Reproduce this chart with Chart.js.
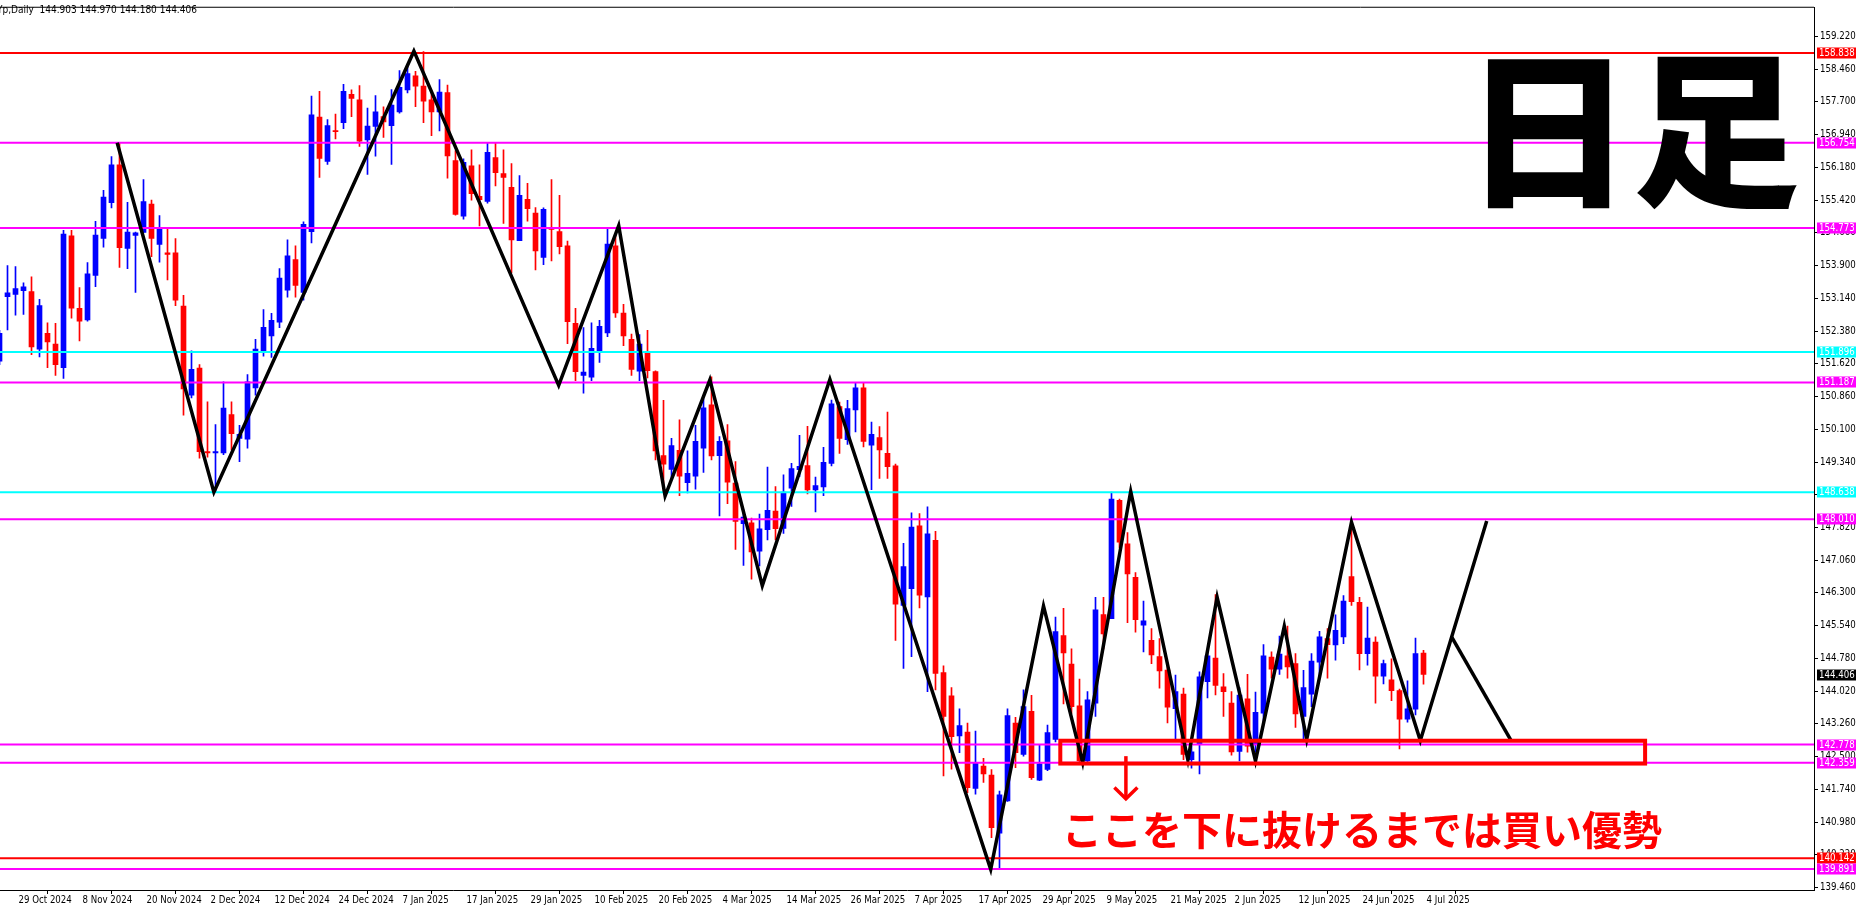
<!DOCTYPE html>
<html><head><meta charset="utf-8">
<script src="https://cdn.jsdelivr.net/npm/chart.js@4.4.1/dist/chart.umd.min.js"></script>
<style>html,body{margin:0;padding:0;background:#fff;overflow:hidden}canvas{display:block}</style>
</head><body>
<canvas id="c" width="1859" height="909"></canvas>
<script>
// ---- data (bar index k starts at -1 = 25 Oct 2024, last k = 177 = 4 Jul 2025) ----
const firstBar = -1;
const opens = [151.68,153.18,153.23,153.32,153.30,151.96,152.33,152.08,151.53,154.59,152.91,152.64,153.67,154.53,155.36,156.24,154.30,154.60,154.67,155.33,154.39,154.20,154.20,152.96,150.89,151.52,149.58,149.55,149.55,150.44,149.89,149.87,151.06,151.92,152.27,152.59,153.33,154.04,153.28,154.69,157.35,156.32,157.03,157.22,157.88,157.75,156.82,157.13,157.36,157.15,157.47,157.98,158.31,158.07,157.75,157.47,157.92,156.34,155.05,156.22,155.51,155.39,156.41,156.04,155.72,154.48,155.44,155.12,154.09,154.78,154.69,154.36,152.56,151.35,151.31,151.88,152.34,154.36,152.80,152.19,151.45,151.88,151.44,149.49,149.17,149.61,148.86,149.01,149.66,150.67,149.49,149.83,148.85,147.91,147.93,147.27,147.77,148.20,147.80,148.73,149.16,149.26,148.69,148.76,149.31,150.63,149.86,150.55,151.06,149.73,149.91,149.54,149.25,146.01,146.40,147.86,146.21,147.52,144.45,143.91,142.98,143.07,141.76,142.28,142.07,140.72,141.47,143.28,142.55,143.55,141.95,142.20,142.90,145.31,144.65,143.68,142.40,143.74,145.80,145.70,148.45,147.44,146.66,145.55,145.20,144.82,144.51,143.61,143.95,142.43,142.78,144.24,144.79,144.12,143.74,142.62,143.84,142.78,143.51,144.81,144.53,144.84,144.66,143.43,143.95,144.69,145.24,145.09,145.28,146.68,146.08,144.89,145.16,144.37,144.28,144.03,143.37,143.60,144.903];
const highs = [152.40,153.90,153.88,153.50,153.64,153.12,152.57,152.56,154.72,154.72,153.39,153.97,154.93,155.65,156.43,156.75,155.37,154.68,155.90,155.42,155.06,154.75,154.53,153.21,151.92,151.60,150.74,150.21,151.20,150.74,150.19,151.37,152.19,152.88,152.79,153.83,154.50,154.36,154.92,157.84,157.95,157.29,157.42,158.11,157.98,158.08,157.56,157.85,157.59,157.99,158.43,158.57,158.41,158.87,157.95,158.22,158.09,156.57,156.38,156.59,156.24,156.75,156.76,156.59,156.27,155.99,155.81,155.25,155.24,155.90,155.53,154.47,152.91,152.46,152.57,152.63,154.78,154.61,153.00,152.31,152.30,152.40,151.46,150.77,149.89,150.32,149.60,150.19,150.81,151.32,149.93,150.21,149.35,148.23,148.04,148.13,149.22,148.77,149.04,149.31,149.96,150.17,148.99,149.68,150.78,150.73,150.77,151.17,151.17,150.27,150.16,150.50,149.29,147.45,148.16,148.14,148.30,147.73,144.61,144.10,143.61,143.28,143.09,142.46,142.20,141.70,143.61,143.41,144.05,143.92,142.78,143.23,145.74,145.94,145.00,144.30,144.01,146.20,146.20,148.64,148.48,147.70,146.77,146.11,145.47,145.24,144.66,144.39,144.09,142.74,144.47,144.97,146.26,144.43,144.01,144.10,144.41,144.00,145.10,144.93,145.30,145.53,144.89,144.50,144.89,145.41,145.47,145.79,146.24,147.93,146.20,145.97,145.28,144.74,144.77,144.07,144.26,145.25,144.970];
const lows = [151.60,152.41,152.75,152.77,151.83,151.78,151.53,151.35,151.28,152.68,152.15,152.61,153.41,154.33,155.24,153.86,153.83,153.28,154.67,154.11,153.98,153.57,152.97,150.43,150.83,149.43,149.45,148.65,149.51,149.62,149.35,149.66,150.89,151.80,151.77,152.46,153.17,153.17,153.10,154.43,155.95,156.25,156.84,157.08,157.36,156.67,156.02,156.44,156.88,156.25,157.44,157.91,157.59,157.22,156.92,157.03,155.93,155.07,154.98,155.42,154.82,155.35,155.75,154.88,153.73,154.48,154.93,153.80,153.92,154.01,154.17,152.09,151.23,150.94,151.23,151.65,152.25,152.70,152.04,151.35,151.23,151.29,149.39,148.64,148.93,148.56,148.62,148.71,149.10,149.39,148.09,148.37,147.31,146.94,146.62,146.93,147.53,147.53,147.68,148.31,149.00,148.60,148.18,148.56,149.25,149.54,149.75,150.04,149.69,148.70,148.96,148.96,145.20,144.55,144.82,145.95,144.01,144.05,142.05,142.21,142.59,141.66,141.63,141.90,140.62,139.89,141.46,142.24,142.51,141.97,141.94,142.17,142.84,143.72,143.50,142.36,142.38,143.43,145.00,145.70,147.35,145.61,145.39,144.93,144.66,144.09,143.28,142.90,142.43,142.23,142.10,143.86,143.93,143.43,142.53,142.40,142.60,142.60,143.30,144.32,144.41,144.32,143.18,142.87,143.66,144.32,144.32,144.74,145.12,146.01,144.51,144.62,143.74,144.19,143.80,142.68,143.30,143.47,144.180];
const closes = [152.33,153.27,153.37,153.41,152.01,152.97,152.13,151.60,154.63,152.91,152.61,153.71,154.61,155.49,156.24,154.32,154.68,154.66,155.39,154.53,154.78,154.16,153.10,151.04,151.49,149.58,149.55,149.58,150.59,150.00,149.98,151.20,151.96,152.47,152.63,153.61,154.13,153.44,154.86,157.40,156.39,157.15,157.01,157.95,157.78,156.79,157.14,157.47,157.24,157.63,158.04,158.36,158.07,157.72,157.47,157.93,156.45,155.09,156.30,155.57,155.43,156.53,156.06,155.95,154.50,155.53,155.22,154.24,155.21,154.74,154.34,152.60,151.44,151.43,151.98,152.49,154.40,152.80,152.27,151.49,152.08,151.46,149.60,149.29,149.72,149.01,149.08,149.82,150.60,149.48,149.82,148.87,147.96,148.06,147.25,147.79,148.22,147.79,148.64,149.19,149.24,148.69,148.79,149.33,150.69,149.89,150.58,151.06,149.82,149.98,149.62,149.23,146.04,146.91,147.83,146.25,147.67,144.43,143.43,142.96,143.22,141.78,142.36,142.10,140.85,141.61,143.45,142.59,143.66,142.01,142.33,143.06,145.40,144.91,143.66,142.40,143.82,145.91,145.35,148.48,147.48,146.74,145.68,145.65,144.86,144.49,143.65,144.01,142.55,142.61,144.35,144.84,144.15,144.01,142.61,143.93,142.74,143.53,144.84,144.53,144.88,144.58,143.49,144.10,144.72,145.28,145.10,145.43,146.11,146.10,144.89,145.25,144.37,144.66,144.03,143.37,143.61,144.89,144.406];

const xTickIdx = [1,9,17,25,33,41,49,57,65,73,81,89,97,105,113,121,129,137,145,153,161,169,177];
const xTickLabels = ["29 Oct 2024","8 Nov 2024","20 Nov 2024","2 Dec 2024","12 Dec 2024","24 Dec 2024","7 Jan 2025","17 Jan 2025","29 Jan 2025","10 Feb 2025","20 Feb 2025","4 Mar 2025","14 Mar 2025","26 Mar 2025","7 Apr 2025","17 Apr 2025","29 Apr 2025","9 May 2025","21 May 2025","2 Jun 2025","12 Jun 2025","24 Jun 2025","4 Jul 2025"];
const yTicks = [159.22,158.46,157.70,156.94,156.18,155.42,154.66,153.90,153.14,152.38,151.62,150.86,150.10,149.34,148.58,147.82,147.06,146.30,145.54,144.78,144.02,143.26,142.50,141.74,140.98,140.22,139.46];

const levels = [158.838,156.754,154.773,151.896,151.187,148.638,148.010,142.778,142.359,140.142,139.891];
const levelColors = ['#ff0000','#ff00ff','#ff00ff','#00ffff','#ff00ff','#00ffff','#ff00ff','#ff00ff','#ff00ff','#ff0000','#ff00ff'];
const lastPrice = 144.406;

const zigzagX = [13.71,25.8,50.8,68.9,76.4,82.2,87.8,94.35,102.8,122.9,129.5,134.4,140.4,147.55,151.2,156.0,159.6,162.4,168.0,176.6,184.9];
const zigzagY = [156.754,148.64,158.88,151.12,154.83,148.55,151.25,146.47,151.26,139.88,146.0,142.36,148.66,142.42,146.2,142.40,145.53,142.90,147.94,142.87,147.97];
const branchX = [180.55,187.9];
const branchY = [145.27,142.89];

const rectK = [131.6,204.7];
const rectP = [142.868,142.338];
const arrowK = 139.8;
const arrowP = [142.51,141.52];
const arrowWing = [1.44,0.26];
const noteText = 'ここを下に抜けるまでは買い優勢';
const notePos = [169.3,140.81];
const titleText = '日足';
const titlePos = [203.1,157.04];
const headerText = 'Yp,Daily  144.903 144.970 144.180 144.406';

// ---- build ----
const BLUE = '#0000ff', RED = '#ff0000';
const bodies = [], wicks = [], cols = [];
for (let i = 0; i < opens.length; i++) {
  const k = firstBar + i;
  bodies.push({x: k, y: [opens[i], closes[i]]});
  wicks.push({x: k, y: [lows[i], highs[i]]});
  cols.push(closes[i] >= opens[i] ? BLUE : RED);
}
const X_MIN = -0.9375, X_MAX = 225.8125;
const FONT = "'Liberation Sans Narrow','DejaVu Sans Condensed','Liberation Sans',sans-serif";
const FSIZE = 9.6;

const levelSets = levels.map((v, i) => ({
  type: 'line', data: [{x: X_MIN, y: v}, {x: X_MAX, y: v}],
  borderColor: levelColors[i], borderWidth: 2, pointRadius: 0, order: 2
}));

const annot = {
  id: 'annot',
  beforeDraw(c) {
    const g = c.ctx; g.save(); g.fillStyle = '#fff'; g.fillRect(0, 0, c.width, c.height); g.restore();
  },
  afterDraw(c) {
    const g = c.ctx, xs = c.scales.x, ys = c.scales.y, a = c.chartArea;
    g.save();
    // top frame
    g.strokeStyle = '#000'; g.lineWidth = 1;
    g.beginPath(); g.moveTo(0, a.top - 0.5); g.lineTo(a.right, a.top - 0.5); g.stroke();
    // header
    g.fillStyle = '#000'; g.font = '10px ' + FONT; g.textBaseline = 'middle'; g.textAlign = 'left';
    g.fillText(headerText, -3, 10);
    // level labels
    g.font = FSIZE + 'px ' + FONT;
    const drawBox = (v, bg) => {
      const y = Math.round(ys.getPixelForValue(v));
      g.fillStyle = bg; g.fillRect(a.right + 3, y - 5.5, 39, 11);
      g.fillStyle = '#fff'; g.textBaseline = 'middle';
      g.fillText(v.toFixed(3), a.right + 5, y + 0.5);
    };
    levels.forEach((v, i) => drawBox(v, levelColors[i]));
    drawBox(lastPrice, '#000');
    // big title
    g.fillStyle = '#000'; g.textAlign = 'center'; g.textBaseline = 'middle';
    g.font = "900 168px 'Noto Sans CJK JP'";
    g.fillText(titleText, xs.getPixelForValue(titlePos[0]), ys.getPixelForValue(titlePos[1]));
    // red rectangle
    g.strokeStyle = RED; g.lineWidth = 4; g.lineJoin = 'miter';
    const rx0 = xs.getPixelForValue(rectK[0]), rx1 = xs.getPixelForValue(rectK[1]);
    const ry0 = ys.getPixelForValue(rectP[0]), ry1 = ys.getPixelForValue(rectP[1]);
    g.strokeRect(rx0, ry0, rx1 - rx0, ry1 - ry0);
    // arrow
    const ax = xs.getPixelForValue(arrowK);
    const ay0 = ys.getPixelForValue(arrowP[0]), ay1 = ys.getPixelForValue(arrowP[1]);
    const wx = xs.getPixelForValue(arrowK + arrowWing[0]) - ax;
    const wy = ys.getPixelForValue(arrowP[1] + arrowWing[1]) - ay1;
    g.lineWidth = 3.5; g.lineCap = 'butt';
    g.beginPath(); g.moveTo(ax, ay0); g.lineTo(ax, ay1); g.stroke();
    g.beginPath(); g.moveTo(ax - wx, ay1 + wy); g.lineTo(ax, ay1); g.lineTo(ax + wx, ay1 + wy); g.stroke();
    // note text
    g.fillStyle = RED; g.font = "bold 40px 'Noto Sans CJK JP'";
    g.fillText(noteText, xs.getPixelForValue(notePos[0]), ys.getPixelForValue(notePos[1]));
    g.restore();
  }
};

new Chart(document.getElementById('c'), {
  type: 'bar',
  data: {
    datasets: [
      {type: 'bar', data: wicks, backgroundColor: cols, barThickness: 1, grouped: false, borderWidth: 0, order: 4},
      {type: 'bar', data: bodies, backgroundColor: cols, barThickness: 5, minBarLength: 1, grouped: false, borderWidth: 0, order: 3},
      ...levelSets,
      {type: 'line', data: zigzagX.map((x, i) => ({x, y: zigzagY[i]})), borderColor: '#000', borderWidth: 3.5,
       borderJoinStyle: 'miter', pointRadius: 0, tension: 0, order: 1},
      {type: 'line', data: branchX.map((x, i) => ({x, y: branchY[i]})), borderColor: '#000', borderWidth: 3.5,
       pointRadius: 0, order: 1}
    ]
  },
  options: {
    responsive: false, animation: false, devicePixelRatio: 1, events: [],
    layout: {padding: {top: 1, left: 0, right: 0, bottom: 0}},
    plugins: {legend: {display: false}, tooltip: {enabled: false}},
    scales: {
      x: {
        type: 'linear', min: X_MIN, max: X_MAX, offset: false,
        afterBuildTicks: s => { s.ticks = xTickIdx.map(v => ({value: v})); },
        afterFit: s => { s.height = 19; },
        grid: {drawOnChartArea: false, tickLength: 4, color: '#000'},
        border: {display: true, color: '#000', width: 1},
        ticks: {autoSkip: false, maxRotation: 0, minRotation: 0, align: 'start', labelOffset: 3, padding: 1,
          color: '#000', font: {family: FONT, size: FSIZE},
          callback: v => { const j = xTickIdx.indexOf(v); return j >= 0 ? xTickLabels[j] : ''; }}
      },
      y: {
        type: 'linear', position: 'right', min: 139.402, max: 159.888,
        afterBuildTicks: s => { s.ticks = yTicks.map(v => ({value: v})); },
        afterFit: s => { s.width = 45; },
        grid: {drawOnChartArea: false, tickLength: 4, color: '#000'},
        border: {display: true, color: '#000', width: 1},
        ticks: {padding: 2, color: '#000', font: {family: FONT, size: FSIZE},
          callback: v => Number(v).toFixed(3)}
      }
    }
  },
  plugins: [annot]
});
</script>
</body></html>
